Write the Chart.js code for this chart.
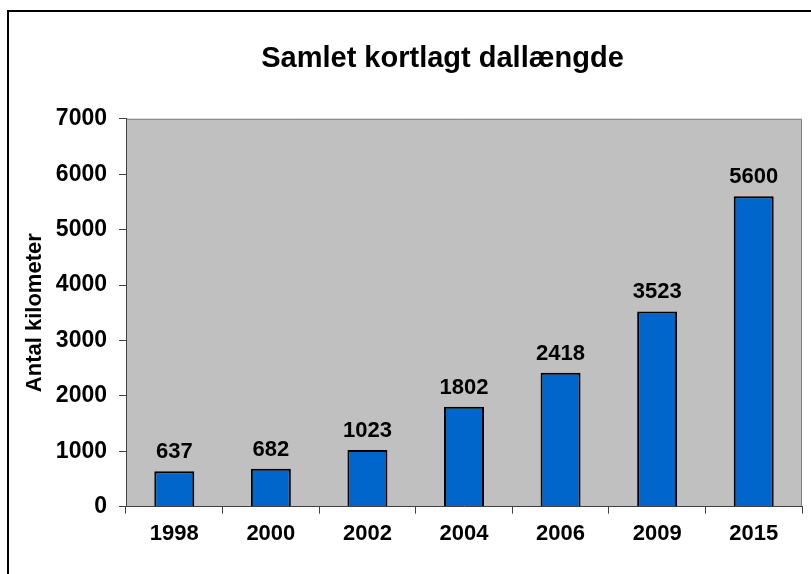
<!DOCTYPE html>
<html lang="da">
<head>
  <meta charset="UTF-8" />
  <script src="https://cdn.jsdelivr.net/npm/chart.js"></script>
  <title>Samlet kortlagt dallængde</title>
  <style>
    body { margin: 0; background: #fff; }
    #wrap { width: 811px; height: 574px; }
  </style>
</head>
<body>
  <div id="wrap"><canvas id="chart" width="811" height="574"></canvas></div>

  <script>
    const years = ['1998', '2000', '2002', '2004', '2006', '2009', '2015'];
    const km = [637, 682, 1023, 1802, 2418, 3523, 5600];
    const yTicks = [0, 1000, 2000, 3000, 4000, 5000, 6000, 7000];

    const FONT = "'Liberation Sans', Arial, sans-serif";

    // hvid baggrund, ramme og grå plotflade
    const frame = {
      id: 'frame',
      afterLayout(chart) {
        // titlen står lidt til højre for midten i originalen
        chart.titleBlock.left = 83;
      },
      beforeDraw(chart) {
        const { ctx, chartArea: a } = chart;
        ctx.save();
        ctx.fillStyle = '#fff';
        ctx.fillRect(0, 0, chart.width, chart.height);
        ctx.strokeStyle = '#000';
        ctx.lineWidth = 2;
        ctx.beginPath();
        ctx.moveTo(8, chart.height);
        ctx.lineTo(8, 11);
        ctx.lineTo(chart.width, 11);
        ctx.stroke();
        ctx.fillStyle = '#c0c0c0';
        ctx.fillRect(a.left, a.top, a.right - a.left, a.bottom - a.top);
        ctx.strokeStyle = '#808080';
        ctx.lineWidth = 1;
        ctx.beginPath();
        ctx.moveTo(a.left, a.top + 0.5);
        ctx.lineTo(a.right - 0.5, a.top + 0.5);
        ctx.lineTo(a.right - 0.5, a.bottom);
        ctx.stroke();
        ctx.restore();
      }
    };

    // tal over søjlerne
    const barLabels = {
      id: 'barLabels',
      afterDatasetsDraw(chart) {
        const { ctx } = chart;
        ctx.save();
        ctx.font = 'bold 22px ' + FONT;
        ctx.fillStyle = '#000';
        ctx.textAlign = 'center';
        ctx.textBaseline = 'alphabetic';
        chart.getDatasetMeta(0).data.forEach((bar, i) => {
          ctx.fillText(String(km[i]), bar.x, bar.y - 13);
        });
        ctx.restore();
      }
    };

    new Chart(document.getElementById('chart'), {
      type: 'bar',
      data: {
        labels: years,
        datasets: [{
          data: km,
          backgroundColor: '#0066cc',
          borderColor: '#000',
          borderWidth: 2,
          barPercentage: 0.414,
          categoryPercentage: 1
        }]
      },
      options: {
        responsive: false,
        animation: false,
        layout: { padding: { left: 0, right: 9, top: 0, bottom: 20 } },
        plugins: {
          legend: { display: false },
          tooltip: { enabled: false },
          title: {
            display: true,
            text: 'Samlet kortlagt dallængde',
            color: '#000',
            font: { family: FONT, size: 29, weight: 'bold' },
            padding: { top: 42, bottom: 42 }
          }
        },
        scales: {
          x: {
            grid: { offset: true, drawOnChartArea: false, tickLength: 7, color: '#404040' },
            border: { color: '#404040' },
            ticks: { color: '#000', padding: 7, font: { family: FONT, size: 22, weight: 'bold' } }
          },
          y: {
            min: 0,
            max: 7000,
            afterFit(scale) { scale.width = 126; },
            afterBuildTicks(scale) { scale.ticks = yTicks.map(v => ({ value: v })); },
            grid: { drawOnChartArea: false, tickLength: 7, color: '#404040' },
            border: { color: '#404040' },
            ticks: {
              color: '#000',
              padding: 12,
              font: { family: FONT, size: 23, weight: 'bold' },
              callback: v => String(v)
            },
            title: {
              display: true,
              text: 'Antal kilometer',
              color: '#000',
              padding: { top: 22, bottom: 0 },
              font: { family: FONT, size: 22, weight: 'bold' }
            }
          }
        }
      },
      plugins: [frame, barLabels]
    });
  </script>
</body>
</html>
